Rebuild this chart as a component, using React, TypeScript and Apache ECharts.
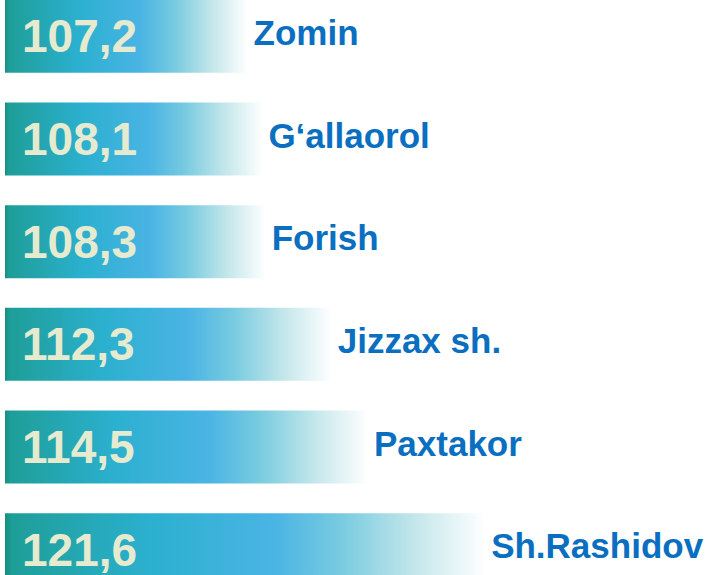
import React, { useEffect, useRef } from "react";
import * as echarts from "echarts";

const categories = ["Zomin", "G‘allaorol", "Forish", "Jizzax sh.", "Paxtakor", "Sh.Rashidov"];
const values = [107.2, 108.1, 108.3, 112.3, 114.5, 121.6];
const valueLabels = ["107,2", "108,1", "108,3", "112,3", "114,5", "121,6"];

export default function App() {
  const ref = useRef<HTMLDivElement>(null);
  useEffect(() => {
    if (!ref.current) return;
    const chart = echarts.init(ref.current, null, { renderer: "svg" });
    const grad = new echarts.graphic.LinearGradient(0, 0, 1, 0, [
      { offset: 0, color: "#15907f" },
      { offset: 0.015, color: "#1e9e98" },
      { offset: 0.3, color: "#2bb0cf" },
      { offset: 0.56, color: "#4ab4e4" },
      { offset: 0.7, color: "#78cbe0" },
      { offset: 0.85, color: "#c2e6ea" },
      { offset: 1, color: "#ffffff" },
    ]);
    chart.setOption({
      animation: false,
      grid: { left: 5, width: 618.75, top: 0, height: 616 },
      xAxis: { type: "value", min: 92.5, max: 130, show: false },
      yAxis: {
        type: "category",
        inverse: true,
        data: categories,
        show: false,
      },
      series: [
        {
          type: "bar",
          data: values,
          barWidth: 73,
          itemStyle: { color: grad },
          label: {
            show: true,
            position: "insideLeft",
            distance: 17,
            formatter: (p: any) => valueLabels[p.dataIndex],
            color: "#e6ebcf",
            fontFamily: "Liberation Sans, Arial, sans-serif",
            fontWeight: "bold",
            fontSize: 46,
          },
        },
        {
          type: "bar",
          data: values,
          barWidth: 73,
          barGap: "-100%",
          itemStyle: { color: "rgba(0,0,0,0)" },
          label: {
            show: true,
            position: "right",
            distance: 6,
            offset: [0, -4],
            formatter: (p: any) => categories[p.dataIndex],
            color: "#0a6fc0",
            fontFamily: "Liberation Sans, Arial, sans-serif",
            fontWeight: "bold",
            fontSize: 35,
          },
          silent: true,
        },
      ],
    });
    return () => chart.dispose();
  }, []);
  return (
    <div style={{ position: "fixed", left: 0, top: 0, width: 713, height: 575, overflow: "hidden", background: "#ffffff" }}>
      <div
        ref={ref}
        style={{ position: "absolute", left: 0, top: -15, width: 713, height: 616 }}
      />
    </div>
  );
}
